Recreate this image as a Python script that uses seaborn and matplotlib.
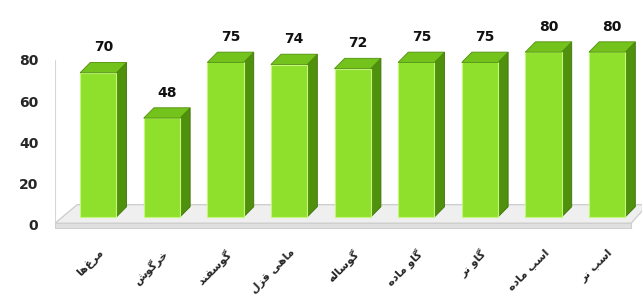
import numpy as np
import pandas as pd
import seaborn as sns
import matplotlib.pyplot as plt
from matplotlib.patches import Polygon

# Chart data
categories = ["مرغ‌ها", "خرگوش", "گوسفند", "ماهی قزل", "گوساله",
              "گاو ماده", "گاو نر", "اسب ماده", "اسب نر"]
values = [70, 48, 75, 74, 72, 75, 75, 80, 80]
yticks = [0, 20, 40, 60, 80]

# isolated, final, initial, medial (None = does not join to the next letter)
FORMS = {
    "ا": (0xFE8D, 0xFE8E, None, None),
    "ب": (0xFE8F, 0xFE90, 0xFE91, 0xFE92),
    "ت": (0xFE95, 0xFE96, 0xFE97, 0xFE98),
    "خ": (0xFEA5, 0xFEA6, 0xFEA7, 0xFEA8),
    "د": (0xFEA9, 0xFEAA, None, None),
    "ر": (0xFEAD, 0xFEAE, None, None),
    "ز": (0xFEAF, 0xFEB0, None, None),
    "س": (0xFEB1, 0xFEB2, 0xFEB3, 0xFEB4),
    "ش": (0xFEB5, 0xFEB6, 0xFEB7, 0xFEB8),
    "غ": (0xFECD, 0xFECE, 0xFECF, 0xFED0),
    "ف": (0xFED1, 0xFED2, 0xFED3, 0xFED4),
    "ق": (0xFED5, 0xFED6, 0xFED7, 0xFED8),
    "ل": (0xFEDD, 0xFEDE, 0xFEDF, 0xFEE0),
    "م": (0xFEE1, 0xFEE2, 0xFEE3, 0xFEE4),
    "ن": (0xFEE5, 0xFEE6, 0xFEE7, 0xFEE8),
    "ه": (0xFEE9, 0xFEEA, 0xFEEB, 0xFEEC),
    "و": (0xFEED, 0xFEEE, None, None),
    "ی": (0xFBFC, 0xFBFD, 0xFBFE, 0xFBFF),
    "گ": (0xFB92, 0xFB93, 0xFB94, 0xFB95),
}


def shape(word):
    """Join Persian letters and put them in visual (right-to-left) order"""
    out = []
    for i, c in enumerate(word):
        if c not in FORMS:
            if c != "\u200c":
                out.append(c)
            continue
        prev = word[i - 1] if i > 0 else ""
        nxt = word[i + 1] if i + 1 < len(word) else ""
        join_prev = prev in FORMS and FORMS[prev][2] is not None
        join_next = FORMS[c][2] is not None and nxt in FORMS
        iso, fin, ini, med = FORMS[c]
        if join_prev and join_next:
            code = med
        elif join_prev:
            code = fin
        elif join_next:
            code = ini
        else:
            code = iso
        out.append(chr(code))
    return "".join(reversed(out))


df = pd.DataFrame({"category": categories, "value": values})

sns.set_style("white")
plt.rcParams["font.family"] = ["DejaVu Sans"]

fig = plt.figure(figsize=(6.44, 3.04), dpi=100)
ax = fig.add_axes([55 / 644, 74.6 / 304, 587 / 644, 202 / 304])

sns.barplot(data=df, x="category", y="value", color="#8fe02c", width=0.57,
            saturation=1, edgecolor="#c4f77a", linewidth=0.8, ax=ax, zorder=3)

dx, dy = 0.16, 5.0
n = len(categories)
wall_drop = 3.8  # the value axis sits on the front edge of the floor, a bit lower

# faint back wall line
ax.plot([-0.68, -0.68], [-wall_drop, 80 - wall_drop], color="#d6d6d6",
        linewidth=0.8, zorder=0)

# floor slab
floor = Polygon([(-0.68, -3), (n - 0.62, -3), (n - 0.62 + dx + 0.1, dy + 1),
                 (-0.68 + 0.35, dy + 1)], closed=True, facecolor="#efefef",
                edgecolor="#cfcfcf", linewidth=1, zorder=1)
ax.add_patch(floor)
ax.add_patch(Polygon([(-0.68, -3), (n - 0.62, -3), (n - 0.62, -5.5), (-0.68, -5.5)],
                     closed=True, facecolor="#e0e0e0", edgecolor="#cfcfcf",
                     linewidth=0.8, zorder=1))

for p, v in zip(list(ax.patches)[: n], values):
    x0, w, h = p.get_x(), p.get_width(), p.get_height()
    side = Polygon([(x0 + w, 0), (x0 + w + dx, dy), (x0 + w + dx, h + dy), (x0 + w, h)],
                   closed=True, facecolor="#4f900c", edgecolor="#3d7208",
                   linewidth=0.6, zorder=2)
    top = Polygon([(x0, h), (x0 + w, h), (x0 + w + dx, h + dy), (x0 + dx, h + dy)],
                  closed=True, facecolor="#74c21c", edgecolor="#4f900c",
                  linewidth=0.6, zorder=4)
    ax.add_patch(side)
    ax.add_patch(top)
    ax.text(x0 + w / 2 + dx / 2, h + dy + 4, str(v), ha="center", va="bottom",
            fontsize=10, fontweight="bold", color="#111111", zorder=5)

ax.set_xlim(-0.68, n - 0.45)
ax.set_ylim(-6, 92)
ax.set_yticks([t - wall_drop for t in yticks])
ax.set_yticklabels([str(t) for t in yticks], fontsize=10, fontweight="bold")
ax.set_xticks(range(n))
ax.set_xticklabels([shape(c) for c in categories], rotation=45, ha="right",
                   rotation_mode="anchor", fontsize=8, fontweight="bold")
ax.tick_params(axis="y", length=0, pad=12)
ax.tick_params(axis="x", length=0, pad=13)
ax.set_xlabel("")
ax.set_ylabel("")
for s in ax.spines.values():
    s.set_visible(False)

fig.savefig("out.png", dpi=100)
